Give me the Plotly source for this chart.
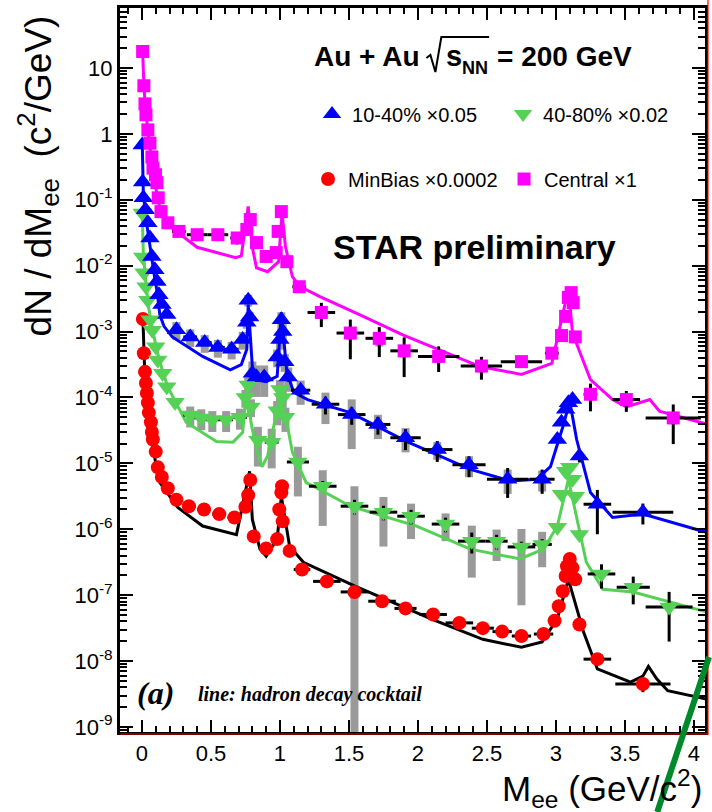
import plotly.graph_objects as go

# ---------------- data (scaled yields as plotted) ----------------
# Central x1 (magenta squares)
central_mass = [0.005, 0.014, 0.022, 0.029, 0.043, 0.058, 0.072, 0.080, 0.098, 0.109, 0.118, 0.138, 0.188, 0.268,
                0.40, 0.55, 0.69, 0.76, 0.785, 0.83, 0.90, 0.973, 0.987, 1.01, 1.05, 1.14, 1.30, 1.51, 1.72, 1.90,
                2.15, 2.46, 2.75, 2.97, 3.04, 3.07, 3.09, 3.11, 3.125, 3.14, 3.25, 3.51, 3.85]
central_yield = [17.8, 5.37, 2.85, 1.95, 1.15, 0.724, 0.447, 0.302, 0.240, 0.182, 0.107, 0.0661, 0.0447, 0.0331,
                 0.0295, 0.0295, 0.0263, 0.0355, 0.0501, 0.0224, 0.0138, 0.0158, 0.0331, 0.0661, 0.0115, 0.00479,
                 0.00195, 9.5e-4, 7.9e-4, 5.1e-4, 4.2e-4, 3.0e-4, 3.5e-4, 4.7e-4, 8.7e-4, 1.7e-3, 3.3e-3, 3.9e-3,
                 2.75e-3, 8.3e-4, 1.12e-4, 9.3e-5, 4.9e-5]
central_halfbin = [0.005, 0.005, 0.005, 0.005, 0.005, 0.005, 0.005, 0.005, 0.005, 0.005, 0.005, 0.005, 0.02, 0.05,
                   0.075, 0.075, 0.05, 0.01, 0.01, 0.02, 0.04, 0.01, 0.005, 0.005, 0.02, 0.05, 0.1, 0.1, 0.1, 0.1,
                   0.15, 0.15, 0.15, 0.05, 0.01, 0.01, 0.01, 0.01, 0.01, 0.01, 0.05, 0.1, 0.2]
central_stat = [0.03, 0.03, 0.03, 0.03, 0.03, 0.03, 0.03, 0.03, 0.03, 0.03, 0.03, 0.03, 0.05, 0.15, 0.2, 0.2, 0.2,
                0.1, 0.1, 0.1, 0.15, 0.1, 0.1, 0.1, 0.1, 0.15, 0.4, 0.6, 0.48, 0.6, 0.42, 0.38, 0.18, 0.15, 0.1,
                0.1, 0.1, 0.1, 0.1, 0.1, 0.45, 0.35, 0.6]
central_sys = [0.08, 0.08, 0.08, 0.08, 0.08, 0.08, 0.08, 0.08, 0.08, 0.08, 0.08, 0.08, 0.1, 0.15, 0.15, 0.15, 0.15,
               0.1, 0.1, 0.15, 0.15, 0.1, 0.1, 0.1, 0.15, 0.15, 0.2, 0.2, 0.25, 0.2, 0.2, 0.2, 0.15, 0.1, 0.1,
               0.1, 0.1, 0.1, 0.1, 0.1, 0.15, 0.15, 0.2]

# 10-40% x0.05 (blue triangles)
semi_mass = [0.002, 0.005, 0.01, 0.025, 0.043, 0.058, 0.072, 0.094, 0.109, 0.123, 0.145, 0.18, 0.25, 0.35, 0.455,
             0.55, 0.65, 0.73, 0.76, 0.77, 0.78, 0.80, 0.83, 0.886, 0.98, 1.00, 1.01, 1.02, 1.035, 1.06, 1.15, 1.33,
             1.52, 1.71, 1.91, 2.14, 2.37, 2.65, 2.90, 3.01, 3.04, 3.07, 3.09, 3.12, 3.17, 3.30, 3.63]
semi_yield = [0.68, 0.186, 0.107, 0.0708, 0.0447, 0.0263, 0.0138, 0.0087, 0.00575, 0.00363, 0.00257, 0.00182,
              0.00107, 8.3e-4, 6.8e-4, 5.75e-4, 5.4e-4, 7.6e-4, 1.38e-3, 3.0e-3, 1.66e-3, 2.34e-4, 2.04e-4, 2.04e-4,
              4.1e-4, 7.6e-4, 1.51e-3, 1.0e-3, 3.5e-4, 2.04e-4, 1.29e-4, 7.9e-5, 5.5e-5, 3.9e-5, 2.45e-5, 1.62e-5,
              9.5e-6, 5.75e-6, 5.75e-6, 2.3e-5, 4.2e-5, 6.6e-5, 8.3e-5, 9.3e-5, 1.29e-5, 2.4e-6, 1.82e-6]
semi_halfbin = [0.005, 0.005, 0.005, 0.005, 0.005, 0.005, 0.005, 0.005, 0.005, 0.005, 0.005, 0.005, 0.03, 0.05,
                0.05, 0.05, 0.05, 0.02, 0.005, 0.005, 0.005, 0.01, 0.02, 0.04, 0.005, 0.005, 0.005, 0.005, 0.005,
                0.02, 0.07, 0.1, 0.1, 0.09, 0.11, 0.11, 0.12, 0.15, 0.09, 0.01, 0.01, 0.01, 0.01, 0.01, 0.02,
                0.1, 0.22]
semi_stat = [0.03, 0.03, 0.03, 0.03, 0.03, 0.03, 0.03, 0.03, 0.03, 0.03, 0.03, 0.03, 0.1, 0.1, 0.1, 0.1, 0.1, 0.1,
             0.08, 0.08, 0.08, 0.15, 0.15, 0.15, 0.1, 0.1, 0.1, 0.1, 0.1, 0.15, 0.2, 0.3, 0.3, 0.3, 0.35, 0.35,
             0.35, 0.48, 0.4, 0.1, 0.1, 0.1, 0.1, 0.1, 0.2, 0.65, 0.35]
semi_sys = [0.05, 0.05, 0.05, 0.05, 0.05, 0.05, 0.05, 0.05, 0.05, 0.05, 0.05, 0.05, 0.3, 0.3, 0.3, 0.3, 0.3, 0.3,
            0.2, 0.2, 0.2, 0.5, 0.5, 0.5, 0.3, 0.3, 0.3, 0.3, 0.3, 0.4, 0.4, 0.5, 0.7, 0.4, 0.4, 0.3, 0.35, 0.4,
            0.35, 0.1, 0.1, 0.1, 0.1, 0.1, 0.1, 0.1, 0.1]

# 40-80% x0.02 (green triangles)
peri_mass = [0.002, 0.006, 0.015, 0.03, 0.043, 0.06, 0.075, 0.10, 0.115, 0.15, 0.18, 0.24, 0.35, 0.43, 0.51, 0.61,
             0.71, 0.75, 0.77, 0.79, 0.84, 0.94, 0.98, 1.00, 1.02, 1.04, 1.13, 1.31, 1.54, 1.75, 1.95, 2.2, 2.39,
             2.57, 2.75, 2.90, 3.01, 3.04, 3.07, 3.10, 3.12, 3.14, 3.17, 3.33, 3.56, 3.82]
peri_yield = [0.063, 0.0135, 0.0078, 0.0048, 0.0030, 0.00151, 0.00105, 5.9e-4, 3.7e-4, 2.34e-4, 1.45e-4, 8.5e-5,
              5.4e-5, 4.9e-5, 4.6e-5, 4.6e-5, 5.0e-5, 1.0e-4, 1.55e-4, 7.2e-5, 2.24e-5, 2.1e-5, 6.3e-5, 1.32e-4,
              1.0e-4, 5.0e-5, 1.05e-5, 4.5e-6, 2.24e-6, 1.82e-6, 1.58e-6, 1.2e-6, 6.6e-7, 6.6e-7, 5.4e-7, 5.9e-7,
              1.07e-6, 3.4e-6, 7.6e-6, 8.7e-6, 5.75e-6, 3.16e-6, 8.3e-7, 2.1e-7, 1.32e-7, 6.6e-8]
peri_halfbin = [0.005, 0.005, 0.005, 0.005, 0.005, 0.005, 0.005, 0.005, 0.005, 0.005, 0.005, 0.03, 0.05, 0.05,
                0.05, 0.05, 0.05, 0.01, 0.01, 0.01, 0.03, 0.05, 0.01, 0.01, 0.01, 0.01, 0.08, 0.1, 0.1, 0.1, 0.1,
                0.1, 0.1, 0.08, 0.1, 0.07, 0.01, 0.01, 0.01, 0.01, 0.01, 0.01, 0.02, 0.1, 0.12, 0.17]
peri_stat = [0.05, 0.05, 0.05, 0.05, 0.05, 0.05, 0.05, 0.05, 0.05, 0.05, 0.05, 0.05, 0.1, 0.1, 0.1, 0.1, 0.1, 0.1,
             0.1, 0.1, 0.15, 0.15, 0.1, 0.1, 0.1, 0.1, 0.15, 0.2, 0.25, 0.25, 0.25, 0.25, 0.35, 0.25, 0.2, 0.2,
             0.1, 0.1, 0.1, 0.1, 0.1, 0.1, 0.15, 0.4, 0.45, 0.7]
peri_sys = [0.1, 0.1, 0.1, 0.1, 0.1, 0.1, 0.1, 0.1, 0.1, 0.1, 0.1, 0.1, 0.35, 0.35, 0.35, 0.35, 0.35, 0.3, 0.3,
            0.3, 0.6, 0.6, 0.4, 0.4, 0.4, 0.4, 0.7, 0.75, 0.9999, 0.7, 0.55, 0.45, 0.72, 0.5, 0.87, 0.55, 0.1,
            0.1, 0.1, 0.1, 0.1, 0.1, 0.1, 0.1, 0.1, 0.1]

# MinBias x0.0002 (red circles)
mb_mass = [0.007, 0.014, 0.022, 0.029, 0.036, 0.043, 0.05, 0.065, 0.072, 0.079, 0.10, 0.115, 0.144, 0.187, 0.25,
           0.34, 0.45, 0.56, 0.67, 0.75, 0.77, 0.785, 0.81, 0.90, 0.98, 0.995, 1.01, 1.015, 1.02, 1.07, 1.16,
           1.34, 1.54, 1.74, 1.91, 2.11, 2.30, 2.47, 2.61, 2.75, 2.91, 2.99, 3.02, 3.05, 3.07, 3.08, 3.10, 3.12,
           3.14, 3.17, 3.30, 3.63]
mb_yield = [1.55e-3, 4.7e-4, 2.45e-4, 1.66e-4, 1.17e-4, 8.3e-5, 5.9e-5, 4.2e-5, 3.0e-5, 2.3e-5, 1.51e-5, 8.7e-6,
            6.2e-6, 4.2e-6, 2.8e-6, 2.24e-6, 2.0e-6, 1.7e-6, 1.51e-6, 2.2e-6, 3.3e-6, 5.6e-6, 7.8e-7, 5.1e-7,
            7.1e-7, 2.0e-6, 3.6e-6, 4.5e-6, 1.32e-6, 4.7e-7, 2.45e-7, 1.62e-7, 1.12e-7, 8.1e-8, 6.3e-8, 5.1e-8,
            3.8e-8, 3.16e-8, 2.8e-8, 2.4e-8, 2.57e-8, 4.1e-8, 6.8e-8, 1.15e-7, 1.95e-7, 2.75e-7, 3.55e-7, 2.6e-7,
            1.74e-7, 3.6e-8, 1.07e-8, 4.5e-9]
mb_halfbin = [0.005, 0.005, 0.005, 0.005, 0.005, 0.005, 0.005, 0.005, 0.005, 0.005, 0.005, 0.005, 0.005, 0.02,
              0.04, 0.05, 0.05, 0.05, 0.05, 0.005, 0.005, 0.005, 0.02, 0.04, 0.02, 0.005, 0.005, 0.005, 0.005,
              0.03, 0.06, 0.1, 0.1, 0.1, 0.08, 0.1, 0.1, 0.08, 0.07, 0.07, 0.07, 0.01, 0.01, 0.01, 0.01, 0.01,
              0.01, 0.01, 0.01, 0.01, 0.1, 0.2]
mb_stat = [0.03, 0.03, 0.03, 0.03, 0.03, 0.03, 0.03, 0.03, 0.03, 0.03, 0.03, 0.03, 0.03, 0.05, 0.05, 0.05, 0.05,
           0.05, 0.05, 0.05, 0.05, 0.05, 0.1, 0.15, 0.1, 0.05, 0.05, 0.05, 0.05, 0.1, 0.15, 0.15, 0.15, 0.12,
           0.12, 0.12, 0.12, 0.12, 0.12, 0.12, 0.12, 0.1, 0.1, 0.1, 0.1, 0.1, 0.1, 0.1, 0.1, 0.1, 0.2, 0.25]
mb_sys = [0.05, 0.05, 0.05, 0.05, 0.05, 0.05, 0.05, 0.05, 0.05, 0.05, 0.05, 0.05, 0.05, 0.1, 0.1, 0.1, 0.1, 0.1,
          0.1, 0.1, 0.1, 0.1, 0.15, 0.15, 0.15, 0.1, 0.1, 0.1, 0.1, 0.15, 0.15, 0.15, 0.2, 0.15, 0.15, 0.15,
          0.15, 0.15, 0.15, 0.15, 0.15, 0.1, 0.1, 0.1, 0.1, 0.1, 0.1, 0.1, 0.1, 0.1, 0.1, 0.1]

# hadron decay cocktails
cock_central_mass = [0.005, 0.015, 0.03, 0.05, 0.07, 0.09, 0.11, 0.14, 0.19, 0.30, 0.40, 0.68, 0.72, 0.77, 0.80,
                     0.83, 0.91, 0.99, 1.015, 1.04, 1.09, 1.145, 1.29, 1.58, 1.89, 2.45, 2.75, 2.97, 3.09, 3.12,
                     3.25, 3.41, 3.51, 3.68, 3.75, 4.1]
cock_central = [17.8, 5.0, 1.9, 0.79, 0.40, 0.224, 0.112, 0.063, 0.0417, 0.0275, 0.019, 0.0132, 0.0141, 0.079,
                0.019, 0.0093, 0.0081, 0.0115, 0.063, 0.0195, 0.0068, 0.0048, 0.0034, 0.0018, 8.9e-4, 2.95e-4,
                2.24e-4, 3.3e-4, 4.4e-3, 9.5e-4, 1.86e-4, 9.3e-5, 7.2e-5, 9.3e-5, 6.2e-5, 3.9e-5]
cock_semi_mass = [0.002, 0.01, 0.03, 0.05, 0.07, 0.09, 0.11, 0.13, 0.16, 0.22, 0.44, 0.64, 0.72, 0.76, 0.77, 0.80,
                  0.82, 0.90, 0.98, 1.01, 1.05, 1.10, 1.20, 1.51, 1.92, 2.38, 2.67, 2.86, 2.96, 3.05, 3.10, 3.15,
                  3.25, 3.41, 3.63, 4.1]
cock_semi = [0.79, 0.126, 0.050, 0.025, 0.0126, 0.0071, 0.0040, 0.00178, 0.0012, 8.3e-4, 4.2e-4, 2.63e-4,
             3.16e-4, 5.4e-4, 2.57e-3, 2.95e-4, 1.86e-4, 1.74e-4, 2.09e-4, 1.95e-3, 2.4e-4, 1.2e-4, 9.3e-5,
             5.9e-5, 2.14e-5, 8.1e-6, 5.4e-6, 5.75e-6, 8.9e-6, 3.6e-5, 8.7e-5, 2.3e-5, 3.6e-6, 1.51e-6, 1.7e-6,
             8.9e-7]
cock_peri_mass = [0.002, 0.01, 0.03, 0.05, 0.08, 0.11, 0.15, 0.19, 0.32, 0.54, 0.66, 0.73, 0.76, 0.79, 0.83,
                  0.87, 0.91, 0.995, 1.045, 1.09, 1.19, 1.28, 1.51, 1.99, 2.38, 2.74, 2.91, 3.01, 3.09, 3.15,
                  3.22, 3.34, 3.56, 4.1]
cock_peri = [0.063, 0.0158, 0.0050, 0.00224, 0.0010, 5.0e-4, 2.5e-4, 1.41e-4, 4.2e-5, 2.14e-5, 2.1e-5, 2.95e-5,
             1.48e-4, 4.2e-5, 1.62e-5, 8.9e-6, 1.29e-5, 9.3e-5, 4.7e-5, 1.48e-5, 5.1e-6, 4.1e-6, 2.24e-6,
             1.12e-6, 5.0e-7, 3.55e-7, 5.0e-7, 1.12e-6, 5.75e-6, 1.58e-6, 3.16e-7, 1.23e-7, 1.12e-7, 5.5e-8]
cock_mb_mass = [0.007, 0.02, 0.04, 0.06, 0.08, 0.10, 0.13, 0.26, 0.44, 0.685, 0.78, 0.80, 0.855, 0.90, 0.98,
                1.01, 1.04, 1.07, 1.17, 1.38, 1.54, 2.09, 2.47, 2.75, 2.90, 3.01, 3.09, 3.20, 3.30, 3.54, 3.63,
                3.67, 3.73, 3.81, 4.1]
cock_mb = [1.55e-3, 2.5e-4, 1.0e-4, 4.0e-5, 1.78e-5, 1.0e-5, 5.1e-6, 2.14e-6, 1.12e-6, 8.3e-7, 7.6e-6, 1.41e-6,
           5.0e-7, 3.9e-7, 7.1e-7, 3.16e-6, 1.41e-6, 5.5e-7, 3.16e-7, 1.95e-7, 1.38e-7, 4.4e-8, 2.14e-8, 1.62e-8,
           1.95e-8, 4.4e-8, 1.74e-7, 2.75e-8, 7.6e-9, 4.8e-9, 5.9e-9, 8.3e-9, 5.4e-9, 3.55e-9, 2.63e-9]

x_tick_vals = [0, 0.5, 1, 1.5, 2, 2.5, 3, 3.5, 4]
x_tick_text = ["0", "0.5", "1", "1.5", "2", "2.5", "3", "3.5", "4"]
y_tick_vals = [1e-9, 1e-8, 1e-7, 1e-6, 1e-5, 1e-4, 1e-3, 1e-2, 1e-1, 1, 10]
y_tick_text = ["10<sup>-9</sup>", "10<sup>-8</sup>", "10<sup>-7</sup>", "10<sup>-6</sup>", "10<sup>-5</sup>",
               "10<sup>-4</sup>", "10<sup>-3</sup>", "10<sup>-2</sup>", "10<sup>-1</sup>", "1", "10"]

MAGENTA = "#ff00ff"
BLUE = "#0000ff"
GREEN = "#55d155"
RED = "#ff0000"
SANS = "Liberation Sans, Arial, sans-serif"
SERIF = "Liberation Serif, Times New Roman, serif"

series = [
    # name, mass, yield, halfbin, stat, sys, colour, symbol, size, legend
    ("MinBias \u00d70.0002", mb_mass, mb_yield, mb_halfbin, mb_stat, mb_sys, RED, "circle", 14, "legend3"),
    ("40-80% \u00d70.02", peri_mass, peri_yield, peri_halfbin, peri_stat, peri_sys, GREEN, "triangle-down", 17, "legend2"),
    ("10-40% \u00d70.05", semi_mass, semi_yield, semi_halfbin, semi_stat, semi_sys, BLUE, "triangle-up", 17, "legend"),
    ("Central \u00d71", central_mass, central_yield, central_halfbin, central_stat, central_sys, MAGENTA, "square", 13, "legend4"),
]
for s in series:
    n = len(s[1])
    assert all(len(a) == n for a in s[2:6]), (s[0], [len(a) for a in s[1:6]])

cocktails = [
    (cock_mb_mass, cock_mb, "black"),
    (cock_peri_mass, cock_peri, GREEN),
    (cock_semi_mass, cock_semi, BLUE),
    (cock_central_mass, cock_central, MAGENTA),
]
for cm, cv, _ in cocktails:
    assert len(cm) == len(cv)

fig = go.Figure()

# systematic uncertainties (grey boxes)
for name, m, y, hb, st, sy, col, sym, size, leg in series:
    up = [v * f for v, f in zip(y, sy)]
    fig.add_trace(go.Scatter(
        x=m, y=y, mode="markers", marker=dict(size=1, opacity=0), showlegend=False, hoverinfo="skip",
        error_y=dict(type="data", symmetric=False, array=up, arrayminus=up, color="#9a9a9a", thickness=8, width=0),
    ))

# cocktail lines
for cm, cv, col in cocktails:
    fig.add_trace(go.Scatter(x=cm, y=cv, mode="lines", line=dict(color=col, width=3), showlegend=False,
                             hoverinfo="skip"))

# data points with stat errors and bin widths
for name, m, y, hb, st, sy, col, sym, size, leg in series:
    err = [v * f for v, f in zip(y, st)]
    fig.add_trace(go.Scatter(
        x=m, y=y, mode="markers", name=name, legend=leg,
        marker=dict(symbol=sym, size=size, color=col, line=dict(width=0)),
        error_y=dict(type="data", array=err, color="black", thickness=3, width=0),
        error_x=dict(type="data", array=hb, color="black", thickness=3, width=0),
    ))

# plot area in pixels: x 120..708, y 8..732
def px(x):
    return (x - 120) / 588.0


def py(y):
    return (732 - y) / 724.0


legend_common = dict(bgcolor="rgba(0,0,0,0)", borderwidth=0, font=dict(family=SANS, size=20, color="black"),
                     xanchor="left", yanchor="middle", itemwidth=30)

fig.update_layout(
    width=712, height=812,
    margin=dict(l=120, r=4, t=8, b=80),
    plot_bgcolor="white", paper_bgcolor="white",
    showlegend=True,
    legend=dict(x=px(313), y=py(114), **legend_common),
    legend2=dict(x=px(505), y=py(114), **legend_common),
    legend3=dict(x=px(309), y=py(179), **legend_common),
    legend4=dict(x=px(506), y=py(179), **legend_common),
)

minor_x = [v / 10 for v in range(-1, 42) if v % 5 != 0]
minor_y = [k * 10.0 ** d for d in range(-10, 2) for k in range(2, 10)]

fig.update_xaxes(
    range=[-0.159, 4.08], tickmode="array", tickvals=x_tick_vals, ticktext=x_tick_text,
    ticks="inside", ticklen=12, tickwidth=1.5, tickcolor="black",
    showline=True, linewidth=3, linecolor="black", mirror="ticks",
    showgrid=False, zeroline=False,
    tickfont=dict(family=SANS, size=22, color="black"),
    minor=dict(tickmode="array", tickvals=minor_x, ticks="inside", ticklen=6, tickwidth=1.5, tickcolor="black",
               showgrid=False),
)
fig.update_yaxes(
    type="log", range=[-9.076, 1.91], tickmode="array", tickvals=y_tick_vals, ticktext=y_tick_text,
    ticks="inside", ticklen=13, tickwidth=1.5, tickcolor="black",
    showline=True, linewidth=3, linecolor="black", mirror="ticks",
    showgrid=False, zeroline=False,
    tickfont=dict(family=SANS, size=22, color="black"),
    minor=dict(tickmode="array", tickvals=minor_y, ticks="inside", ticklen=7, tickwidth=1.5, tickcolor="black",
               showgrid=False),
)

annotations = [
    dict(text="<b>Au + Au</b>", x=px(313), y=py(56), xanchor="left", yanchor="middle",
         font=dict(family=SANS, size=28, color="black")),
    dict(text="<b>s</b>", x=px(446), y=py(56), xanchor="left", yanchor="middle",
         font=dict(family=SANS, size=29, color="black")),
    dict(text="<b>NN</b>", x=px(462), y=py(68), xanchor="left", yanchor="middle",
         font=dict(family=SANS, size=18, color="black")),
    dict(text="<b>= 200 GeV</b>", x=px(497), y=py(56), xanchor="left", yanchor="middle",
         font=dict(family=SANS, size=28, color="black")),
    dict(text="<b>STAR preliminary</b>", x=px(476), y=py(247), xanchor="center", yanchor="middle",
         font=dict(family=SANS, size=34, color="black")),
    dict(text="<b><i>(a)</i></b>", x=px(156), y=py(693), xanchor="center", yanchor="middle",
         font=dict(family=SERIF, size=32, color="black")),
    dict(text="<b><i>line: hadron decay cocktail</i></b>", x=px(196), y=py(694), xanchor="left", yanchor="middle",
         font=dict(family=SERIF, size=20, color="black")),
    dict(text="dN / dM<sub>ee</sub>  (c<sup>2</sup>/GeV)", x=px(38), y=py(176), xanchor="center", yanchor="middle",
         textangle=-90, font=dict(family=SANS, size=37, color="black")),
    dict(text="M<sub>ee</sub> (GeV/c<sup>2</sup>)", x=px(707), y=py(789), xanchor="right", yanchor="middle",
         font=dict(family=SANS, size=35, color="black")),
]
for a in annotations:
    a.update(xref="paper", yref="paper", showarrow=False)
fig.update_layout(annotations=annotations)

radical = "M {:.4f},{:.4f} L {:.4f},{:.4f} L {:.4f},{:.4f} L {:.4f},{:.4f} L {:.4f},{:.4f}".format(
    px(428), py(58), px(432), py(55), px(437), py(72), px(443), py(37), px(491), py(37))

fig.update_layout(shapes=[
    dict(type="path", xref="paper", yref="paper", path=radical, line=dict(color="black", width=2)),
    dict(type="line", xref="paper", yref="paper", x0=0.0, x1=px(712), y0=py(734), y1=py(734),
         line=dict(color="red", width=1.2)),
    dict(type="line", xref="paper", yref="paper", x0=px(711), x1=px(711), y0=py(734), y1=py(0),
         line=dict(color="red", width=1.2)),
    dict(type="line", xref="paper", yref="paper", x0=px(712), y0=py(657), x1=px(660), y1=py(812),
         line=dict(color="#00892b", width=6)),
])

fig.write_html("out.html", config={"displayModeBar": False},
               post_script="document.body.style.margin='0px';")
